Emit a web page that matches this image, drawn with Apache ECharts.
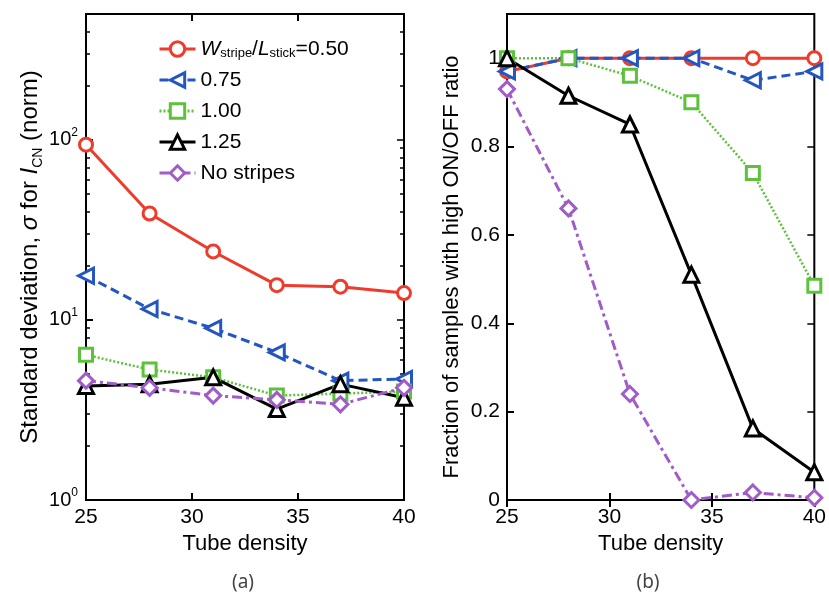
<!DOCTYPE html>
<html>
<head>
<meta charset="utf-8">
<script src="https://cdn.jsdelivr.net/npm/echarts@6/dist/echarts.min.js"></script>
<style>
  html, body { margin: 0; padding: 0; background: #fff; }
  #chart { width: 829px; height: 594px; }
</style>
</head>
<body>
<div id="chart"></div>
<script>
// x values, shared by both panels
var tubeDensity = [25, 28, 31, 34, 37, 40]
var seriesNames = ['W_stripe/L_stick=0.50', '0.75', '1.00', '1.25', 'No stripes']

// (a) standard deviation of I_CN (log axis)
var sigma050 = [94, 39, 24, 15.6, 15.3, 14.1]
var sigma075 = [17.6, 11.5, 9.0, 6.6, 4.6, 4.7]
var sigma100 = [6.4, 5.3, 4.8, 3.8, 3.9, 4.0]
var sigma125 = [4.3, 4.4, 4.8, 3.2, 4.4, 3.7]
var sigmaNone = [4.6, 4.2, 3.8, 3.6, 3.4, 4.2]

// (b) fraction of samples with high ON/OFF ratio
var frac050 = [0.97, 1, 1, 1, 1, 1]
var frac075 = [0.97, 1, 1, 1, 0.95, 0.97]
var frac100 = [1, 1, 0.96, 0.90, 0.74, 0.485]
var frac125 = [1, 0.915, 0.85, 0.51, 0.162, 0.063]
var fracNone = [0.93, 0.66, 0.24, 0.0, 0.017, 0.005]

// tick values
var logMajor = [1, 10, 100]
var logMinor = [2, 3, 4, 5, 6, 7, 8, 9, 20, 30, 40, 50, 60, 70, 80, 90, 200, 300, 400]
var fracTicks = [0, 0.2, 0.4, 0.6, 0.8, 1]

var FONT = 'Arial, "Liberation Sans", sans-serif'
var colors = ['#ee3b2b', '#2456c2', '#5cc23c', '#000000', '#a05cc8']
var symbols = ['circle', 'triangle', 'rect', 'triangle', 'diamond']
var rotates = [0, 90, 0, 0, 0]
var sizes = [13, 15, 13, 15, 15]
var dashes = ['solid', [9, 5], [2, 2], 'solid', [10, 4, 3, 4]]
var widths = [3, 3, 2.5, 3, 3]

var chart = echarts.init(document.getElementById('chart'))

function xAxisFor (grid, pos) {
  return {
    type: 'value', gridIndex: grid, position: pos, min: 25, max: 40, interval: 5,
    axisLine: { show: false },
    splitLine: { show: false },
    axisTick: { show: true, inside: true, length: 7, lineStyle: { color: '#000', width: 2 } },
    axisLabel: {
      show: pos === 'bottom', margin: 7, color: '#000', fontFamily: FONT, fontSize: 21,
      showMinLabel: true, showMaxLabel: true
    },
    name: pos === 'bottom' ? 'Tube density' : '',
    nameLocation: 'middle', nameGap: 31,
    nameTextStyle: { color: '#000', fontFamily: FONT, fontSize: 22 }
  }
}

function tickOnly (axis, values, len) {
  axis.axisLine = { show: false }
  axis.splitLine = { show: false }
  axis.axisLabel = { show: false }
  axis.axisTick = { show: true, inside: true, length: len, customValues: values, lineStyle: { color: '#000', width: 1.5 } }
  return axis
}

function makeSeries (data, xi, yi) {
  return data.map(function (vals, k) {
    return {
      name: seriesNames[k],
      type: 'line',
      xAxisIndex: xi,
      yAxisIndex: yi,
      data: tubeDensity.map(function (x, i) { return [x, vals[i]] }),
      symbol: symbols[k],
      symbolSize: sizes[k],
      symbolRotate: rotates[k],
      showAllSymbol: true,
      clip: false,
      lineStyle: { color: colors[k], width: widths[k], type: dashes[k] },
      itemStyle: { color: '#ffffff', borderColor: colors[k], borderWidth: 3 },
      emphasis: { disabled: true }
    }
  })
}

var logLabelStyle = {
  margin: 8, color: '#000', fontFamily: FONT, fontSize: 20, lineHeight: 26,
  customValues: logMajor,
  formatter: function (v) {
    var p = Math.round(Math.log(v) / Math.LN10)
    return '10{sup|' + p + '}'
  },
  rich: { sup: { fontFamily: FONT, fontSize: 12, lineHeight: 12, verticalAlign: 'top', color: '#000' } }
}

chart.setOption({
  animation: false,
  backgroundColor: '#ffffff',
  grid: [
    { left: 86, top: 14, width: 318, height: 486, show: true, borderColor: '#000', borderWidth: 2, backgroundColor: 'transparent' },
    { left: 507, top: 14, width: 321, height: 486, show: true, borderColor: '#000', borderWidth: 2, backgroundColor: 'transparent' }
  ],
  legend: {
    data: seriesNames,
    orient: 'vertical',
    left: 153,
    top: 33,
    itemWidth: 36,
    itemHeight: 18,
    itemGap: 9,
    lineStyle: { width: 3 },
    itemStyle: { borderWidth: 3 },
    textStyle: {
      color: '#000', fontFamily: FONT, fontSize: 21, lineHeight: 22,
      rich: {
        i: { fontFamily: FONT, fontSize: 21, fontStyle: 'italic', color: '#000' },
        sub: { fontFamily: FONT, fontSize: 13, lineHeight: 13, verticalAlign: 'bottom', color: '#000' }
      }
    },
    formatter: function (name) {
      if (name === seriesNames[0]) return '{i|W}{sub|stripe}/{i|L}{sub|stick}=0.50'
      return name
    }
  },
  xAxis: [
    xAxisFor(0, 'bottom'),
    xAxisFor(0, 'top'),
    xAxisFor(1, 'bottom'),
    xAxisFor(1, 'top')
  ],
  yAxis: [
    {
      type: 'log', logBase: 10, gridIndex: 0, position: 'left', min: 1, max: 500,
      axisLine: { show: false },
      splitLine: { show: false },
      axisTick: { show: true, inside: true, length: 7, customValues: logMajor, lineStyle: { color: '#000', width: 2 } },
      axisLabel: logLabelStyle,
      name: 'Standard deviation, {i|σ} for {i|I}{sub|CN} (norm)',
      nameLocation: 'middle', nameGap: 35, nameRotate: 90,
      nameTextStyle: {
        color: '#000', fontFamily: FONT, fontSize: 24, lineHeight: 30,
        rich: {
          i: { fontFamily: FONT, fontSize: 24, fontStyle: 'italic', color: '#000' },
          sub: { fontFamily: FONT, fontSize: 14, lineHeight: 14, verticalAlign: 'bottom', color: '#000' }
        }
      }
    },
    tickOnly({ type: 'log', logBase: 10, gridIndex: 0, position: 'left', min: 1, max: 500 }, logMinor, 4),
    tickOnly({ type: 'log', logBase: 10, gridIndex: 0, position: 'right', min: 1, max: 500 }, logMajor, 7),
    tickOnly({ type: 'log', logBase: 10, gridIndex: 0, position: 'right', min: 1, max: 500 }, logMinor, 4),
    {
      type: 'value', gridIndex: 1, position: 'left', min: 0, max: 1.1,
      axisLine: { show: false },
      splitLine: { show: false },
      axisTick: { show: true, inside: true, length: 7, customValues: fracTicks, lineStyle: { color: '#000', width: 2 } },
      axisLabel: { margin: 7, color: '#000', fontFamily: FONT, fontSize: 21, customValues: fracTicks },
      name: 'Fraction of samples with high ON/OFF ratio',
      nameLocation: 'middle', nameGap: 44, nameRotate: 90,
      nameTextStyle: { color: '#000', fontFamily: FONT, fontSize: 22, padding: [0, 20, 0, 0] }
    },
    tickOnly({ type: 'value', gridIndex: 1, position: 'right', min: 0, max: 1.1 }, fracTicks, 7)
  ],
  graphic: [
    { type: 'text', x: 243, y: 583, style: { text: '(a)', textAlign: 'center', textVerticalAlign: 'middle', font: '19px "Noto Sans", "DejaVu Sans", sans-serif', fill: '#444' } },
    { type: 'text', x: 648, y: 583, style: { text: '(b)', textAlign: 'center', textVerticalAlign: 'middle', font: '19px "Noto Sans", "DejaVu Sans", sans-serif', fill: '#444' } }
  ],
  series: makeSeries([sigma050, sigma075, sigma100, sigma125, sigmaNone], 0, 0)
    .concat(makeSeries([frac050, frac075, frac100, frac125, fracNone], 2, 4))
})
</script>
</body>
</html>
